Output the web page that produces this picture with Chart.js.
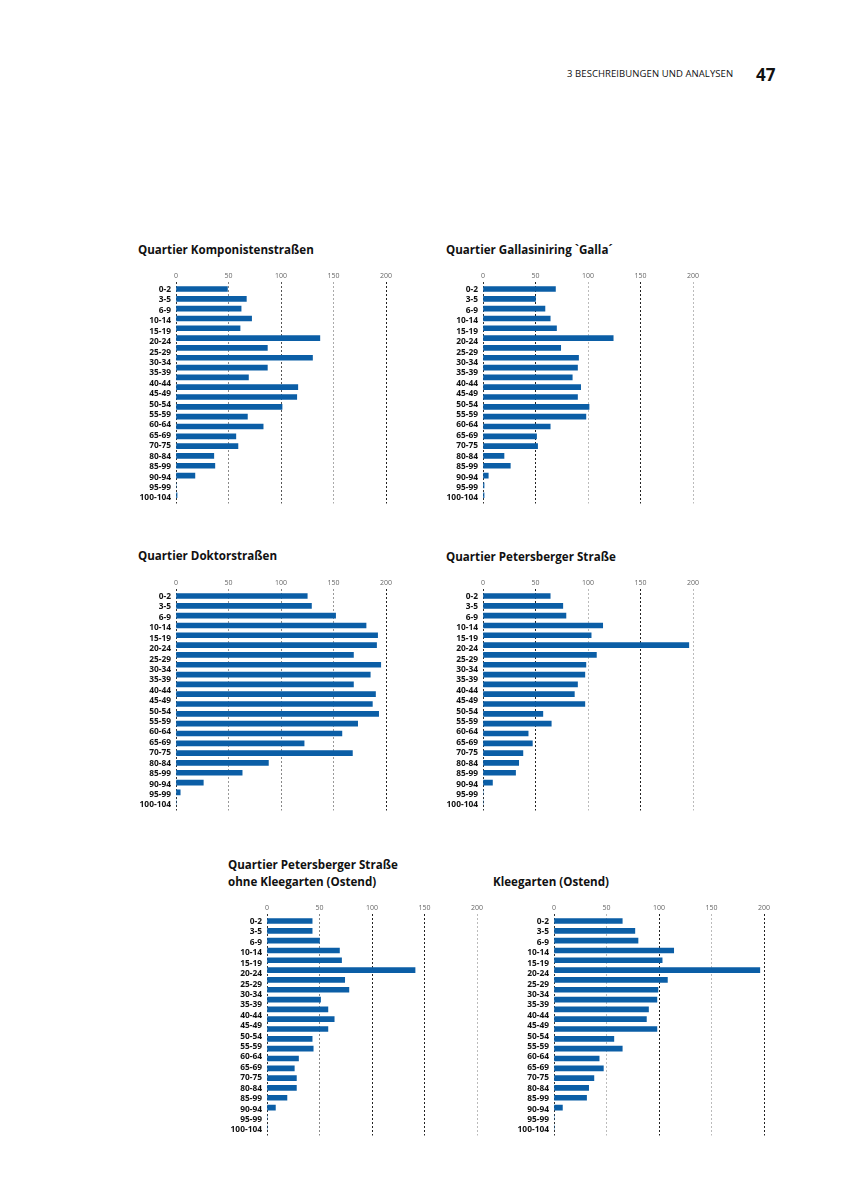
<!DOCTYPE html>
<html>
<head>
<meta charset="utf-8">
<script src="https://cdn.jsdelivr.net/npm/chart.js@4"></script>
<style>
  html, body { margin: 0; padding: 0; background: #fff; }
  body { width: 849px; height: 1200px; position: relative; overflow: hidden; font-family: "Open Sans", sans-serif; }
  .t { position: absolute; font-weight: 700; font-size: 11.6px; line-height: 1; color: #111; white-space: nowrap; }
  .box { position: absolute; }
  #hdr { position: absolute; left: 567px; top: 69px; font-size: 9.5px; line-height: 1; color: #111; white-space: nowrap; letter-spacing: 0.08px; }
  #pg { position: absolute; left: 756px; top: 66px; font-size: 17px; font-weight: 700; line-height: 1; color: #111; }
</style>
</head>
<body>
<div id="hdr">3 BESCHREIBUNGEN UND ANALYSEN</div>
<div id="pg">47</div>

<div class="t" style="left:138px; top:244px;">Quartier Komponistenstraßen</div>
<div class="t" style="left:446px; top:244px;">Quartier Gallasiniring `Galla´</div>
<div class="t" style="left:138px; top:550px;">Quartier Doktorstraßen</div>
<div class="t" style="left:446px; top:551px;">Quartier Petersberger Straße</div>
<div class="t" style="left:228px; top:859px;">Quartier Petersberger Straße</div>
<div class="t" style="left:228px; top:876px;">ohne Kleegarten (Ostend)</div>
<div class="t" style="left:493px; top:876px;">Kleegarten (Ostend)</div>

<div class="box" id="b1"><canvas id="c1"></canvas></div>
<div class="box" id="b2"><canvas id="c2"></canvas></div>
<div class="box" id="b3"><canvas id="c3"></canvas></div>
<div class="box" id="b4"><canvas id="c4"></canvas></div>
<div class="box" id="b5"><canvas id="c5"></canvas></div>
<div class="box" id="b6"><canvas id="c6"></canvas></div>

<script>
// ---- data ----
// Tick labels printed beside the bars (as in the original, 21 labels)
const tickLabels = ["0-2","3-5","6-9","10-14","15-19","20-24","25-29","30-34","35-39","40-44","45-49","50-54","55-59","60-64","65-69","70-75","80-84","85-99","90-94","95-99","100-104"];
// Bar slots (22 age groups actually drawn)
const ageGroups = ["0-2","3-5","6-9","10-14","15-19","20-24","25-29","30-34","35-39","40-44","45-49","50-54","55-59","60-64","65-69","70-74","75-79","80-84","85-89","90-94","95-99","100-104"];
const xTicks = [0, 50, 100, 150, 200];

const komponisten   = [49,67,62,72,61,137,87,130,87,69,116,115,101,68,83,57,59,36,37,18,0,1];
const galla         = [69,50,59,64,70,124,74,91,90,85,93,90,101,98,64,51,52,20,26,5,1,1];
const doktor        = [125,129,152,181,192,191,169,195,185,169,190,187,193,173,158,122,168,88,63,26,4,0];
const petersberger  = [64,76,79,114,103,196,108,98,97,90,87,97,57,65,43,47,38,34,31,9,0,0];
const ohneKleegarten= [43,43,50,69,71,141,74,78,51,58,64,58,43,44,30,26,28,28,19,8,0,0];
const kleegarten    = [65,77,80,114,103,196,108,99,98,90,88,98,57,65,43,47,38,33,31,8,0,0];

// ---- layout ----
const YW = 50, XH = 20, PW = 210, RP = 12;
const SLOT = 9.82;                  // px per bar slot
const ABOVE = 7, BELOW = 214.5;     // plot area extent around first bar (px)
const PH = ABOVE + BELOW;
const LBL0 = 0.6, LBLSTEP = 10.42;  // label positions relative to first bar (px)
const YMIN = -ABOVE / SLOT, YMAX = YMIN + PH / SLOT;
const BAR = '#0b5ea6';

function zeroPad(s) { s.paddingTop = 0; s.paddingBottom = 0; s.paddingLeft = 0; s.paddingRight = 0; }

function makeChart(id, boxId, x0, firstBar, values, gridColors) {
  const areaTop = firstBar - ABOVE;
  const box = document.getElementById(boxId);
  box.style.left = (x0 - YW) + 'px';
  box.style.top = (areaTop - XH) + 'px';
  const cv = document.getElementById(id);
  cv.width = YW + PW + RP;
  cv.height = Math.ceil(XH + PH);
  cv.style.width = cv.width + 'px';
  cv.style.height = cv.height + 'px';
  return new Chart(cv, {
    type: 'bar',
    data: {
      labels: ageGroups,
      datasets: [{
        data: values.map((v, i) => ({ x: v, y: i })),
        backgroundColor: BAR,
        borderWidth: 0,
        barThickness: 5
      }]
    },
    options: {
      indexAxis: 'y',
      responsive: false,
      maintainAspectRatio: false,
      animation: false,
      layout: { padding: { left: 0, top: 0, right: RP, bottom: cv.height - XH - PH } },
      plugins: { legend: { display: false }, tooltip: { enabled: false }, title: { display: false } },
      scales: {
        x: {
          type: 'linear',
          position: 'top',
          min: 0, max: 200,
          afterBuildTicks: (s) => { s.ticks = xTicks.map(v => ({ value: v })); },
          afterFit: (s) => { s.height = XH; zeroPad(s); },
          ticks: { font: { family: 'Open Sans', size: 7 }, color: '#666', padding: 2 },
          grid: { drawTicks: false, lineWidth: 1, color: (ctx) => gridColors[ctx.index] || '#999' },
          border: { display: false, dash: [2, 2] }
        },
        y: {
          type: 'linear',
          position: 'left',
          reverse: true,
          offset: false,
          min: YMIN, max: YMAX,
          afterBuildTicks: (s) => { s.ticks = tickLabels.map((_, i) => ({ value: (LBL0 + LBLSTEP * i) / SLOT })); },
          afterFit: (s) => { s.width = YW; zeroPad(s); },
          ticks: { autoSkip: false, font: { family: 'Open Sans', size: 8.4, weight: 'bold' }, color: '#111', padding: 5, callback: (v, i) => tickLabels[i] },
          grid: { display: false, drawTicks: false, offset: false },
          border: { display: false }
        }
      }
    }
  });
}

makeChart('c1', 'b1', 176, 288.7, komponisten,    ['#333', '#888', '#555', '#aaa', '#222']);
makeChart('c2', 'b2', 483, 288.7, galla,          ['#333', '#222', '#bbb', '#222', '#bbb']);
makeChart('c3', 'b3', 176, 596,   doktor,         ['#333', '#999', '#888', '#999', '#222']);
makeChart('c4', 'b4', 483, 596,   petersberger,   ['#333', '#222', '#bbb', '#222', '#bbb']);
makeChart('c5', 'b5', 267, 921,   ohneKleegarten, ['#333', '#888', '#222', '#222', '#bbb']);
makeChart('c6', 'b6', 554, 921,   kleegarten,     ['#333', '#bbb', '#222', '#bbb', '#222']);
</script>
</body>
</html>
